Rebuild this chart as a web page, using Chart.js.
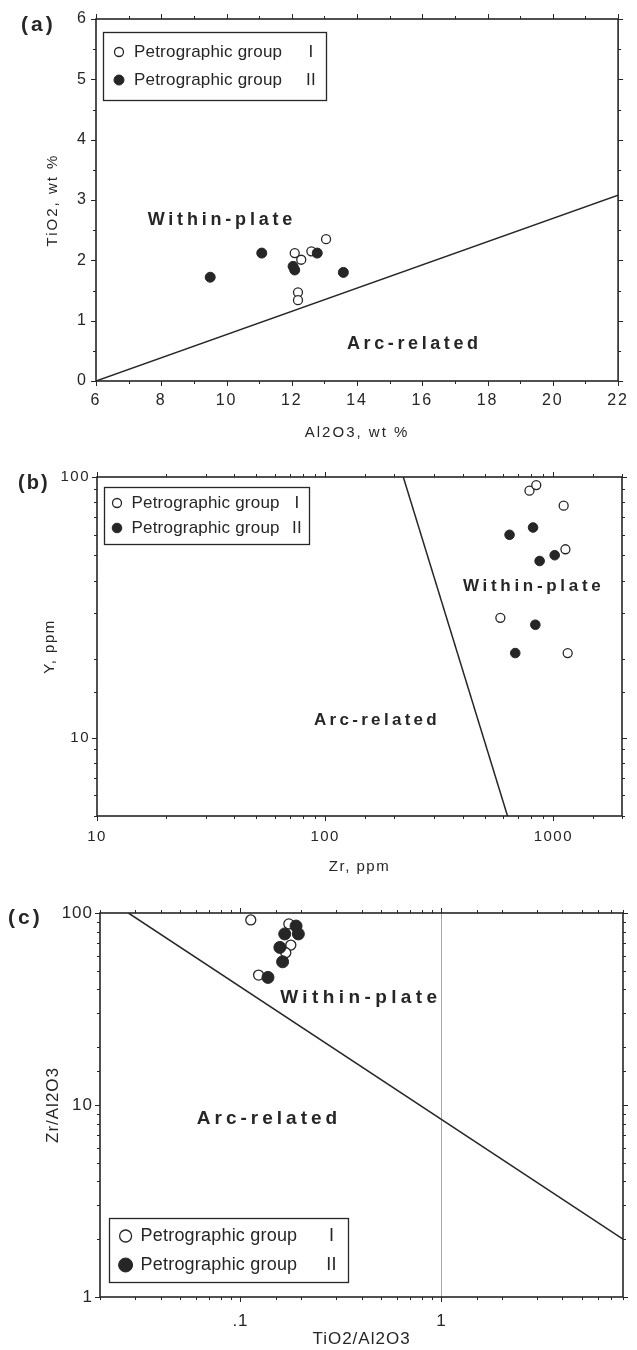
<!DOCTYPE html>
<html><head><meta charset="utf-8">
<script src="https://cdn.jsdelivr.net/npm/chart.js@4.4.1/dist/chart.umd.min.js"></script>
<style>
html,body{margin:0;padding:0;background:#fff;}
body{width:637px;height:1350px;position:relative;overflow:hidden;}
.panel{position:absolute;left:0;width:637px;}
canvas{display:block;}
</style></head><body>
<div class="panel" style="top:0;height:450px"><canvas id="ca" width="637" height="450"></canvas></div>
<div class="panel" style="top:450px;height:430px"><canvas id="cb" width="637" height="430"></canvas></div>
<div class="panel" style="top:880px;height:470px"><canvas id="cc" width="637" height="470"></canvas></div>
<script>
// ---------- DATA ----------
// Panel (a): TiO2 vs Al2O3 (wt %)
const A_G1_AL2O3 = [12.09, 12.29, 12.60, 13.05, 12.19, 12.19];
const A_G1_TIO2  = [2.12, 2.01, 2.15, 2.35, 1.47, 1.34];
const A_G2_AL2O3 = [9.50, 11.08, 12.04, 12.09, 12.78, 13.58];
const A_G2_TIO2  = [1.72, 2.12, 1.90, 1.84, 2.12, 1.80];
const A_LINE_AL2O3 = [6, 22];
const A_LINE_TIO2  = [0, 3.08];
const A_X_TICKS = [6, 8, 10, 12, 14, 16, 18, 20, 22];
const A_X_LABELS = ['6', '8', '10', '12', '14', '16', '18', '20', '22'];
const A_Y_TICKS = [0, 1, 2, 3, 4, 5, 6];
const A_Y_LABELS = ['0', '1', '2', '3', '4', '5', '6'];

// Panel (b): Y vs Zr (ppm)
const B_G1_ZR = [786, 842, 1110, 1130, 586, 1156];
const B_G1_Y  = [88.6, 93.1, 77.6, 52.8, 28.8, 21.1];
const B_G2_ZR = [643, 815, 871, 1014, 834, 681];
const B_G2_Y  = [60, 64, 47.6, 50.1, 27.1, 21.1];
const B_LINE_ZR = [220, 630];
const B_LINE_Y  = [100, 5];
const B_X_TICKS = [10, 100, 1000];
const B_X_LABELS = ['10', '100', '1000'];
const B_Y_TICKS = [10, 100];
const B_Y_LABELS = ['10', '100'];

// Panel (c): Zr/Al2O3 vs TiO2/Al2O3
const C_G1_TI_AL = [0.1125, 0.174, 0.178, 0.168, 0.123];
const C_G1_ZR_AL = [92, 87.7, 68.1, 62.1, 47.5];
const C_G2_TI_AL = [0.189, 0.166, 0.194, 0.157, 0.162, 0.137];
const C_G2_ZR_AL = [85.5, 77.8, 77.8, 66.2, 55.7, 46.2];
const C_LINE_TI_AL = [0.0277, 8];
const C_LINE_ZR_AL = [100, 2];
const C_X_TICKS = [0.1, 1];
const C_X_LABELS = ['.1', '1'];
const C_Y_TICKS = [1, 10, 100];
const C_Y_LABELS = ['1', '10', '100'];
const C_X_GRID = [1];

const SERIES_NAMES = ['Petrographic group', 'Petrographic group'];
const SERIES_NUMERALS = ['I', 'II'];

// ---------- HELPERS ----------
const INK = '#262626';
const FAM = '"Liberation Sans", Arial, Helvetica, sans-serif';
const zip = (xs, ys) => xs.map((x, i) => ({x: x, y: ys[i]}));
const near = (a, b) => Math.abs(a - b) <= 1e-6 * Math.max(1e-12, Math.abs(b));
const isIn = (v, arr) => arr.some(t => near(v, t));
const labeler = (vals, labs) => v => { for (let i = 0; i < vals.length; i++) if (near(v, vals[i])) return labs[i]; return ''; };

function axisValues(scale, step) {
  if (step) { const out = []; for (let v = scale.min; v <= scale.max + 1e-9; v += step) out.push(+v.toFixed(6)); return out; }
  return scale.ticks.map(t => t.value);
}

const textSpacing = {
  id: 'textSpacing',
  beforeDraw(chart, args, o) { chart.ctx.letterSpacing = o.scale || '0px'; },
  beforeDatasetsDraw(chart) { chart.ctx.letterSpacing = '0px'; }
};

const frameTicks = {
  id: 'frameTicks',
  afterDatasetsDraw(chart, args, o) {
    const {ctx, chartArea: a} = chart;
    const xs = chart.scales.x, ys = chart.scales.y;
    ctx.save();
    ctx.strokeStyle = INK;
    ctx.lineWidth = o.frameWidth;
    ctx.strokeRect(a.left, a.top, a.right - a.left, a.bottom - a.top);
    ctx.lineWidth = 1;
    ctx.beginPath();
    for (const v of axisValues(xs, o.xStep)) {
      const p = Math.round(xs.getPixelForValue(v)) + 0.5;
      const L = isIn(v, o.xMajor) ? o.major : o.minor;
      ctx.moveTo(p, a.bottom); ctx.lineTo(p, a.bottom + L);
      ctx.moveTo(p, a.top); ctx.lineTo(p, a.top - L);
    }
    for (const v of axisValues(ys, o.yStep)) {
      const p = Math.round(ys.getPixelForValue(v)) + 0.5;
      const L = isIn(v, o.yMajor) ? o.major : o.minor;
      ctx.moveTo(a.left, p); ctx.lineTo(a.left - L, p);
      ctx.moveTo(a.right, p); ctx.lineTo(a.right + L, p);
    }
    ctx.stroke();
    ctx.restore();
  }
};

const annot = {
  id: 'annot',
  afterDraw(chart, args, o) {
    const ctx = chart.ctx;
    const xs = chart.scales.x, ys = chart.scales.y;
    ctx.save();
    ctx.fillStyle = INK;
    ctx.textBaseline = 'middle';
    // region names
    for (const r of o.regions) {
      ctx.font = 'bold ' + r.size + 'px ' + FAM;
      ctx.letterSpacing = r.spacing + 'px';
      ctx.textAlign = 'center';
      ctx.fillText(r.text, xs.getPixelForValue(r.x) + r.spacing / 2, ys.getPixelForValue(r.y));
    }
    // panel tag
    const t = o.tag;
    ctx.font = 'bold ' + t.size + 'px ' + FAM;
    ctx.letterSpacing = t.spacing + 'px';
    ctx.textAlign = 'left';
    ctx.fillText(t.text, t.x, t.y);
    // legend box
    const L = o.legend;
    ctx.letterSpacing = '0px';
    ctx.strokeStyle = INK;
    ctx.lineWidth = 1.3;
    ctx.strokeRect(L.x1 + 0.5, L.y1 + 0.5, L.x2 - L.x1, L.y2 - L.y1);
    ctx.font = L.size + 'px ' + FAM;
    ctx.letterSpacing = L.spacing + 'px';
    const ds = [chart.data.datasets[1], chart.data.datasets[0]];
    ds.forEach((d, i) => {
      const y = L.rows[i];
      ctx.beginPath();
      ctx.arc(L.symX, y, d.pointRadius + L.symGrow, 0, Math.PI * 2);
      ctx.fillStyle = d.pointBackgroundColor;
      ctx.fill();
      ctx.lineWidth = d.pointBorderWidth;
      ctx.strokeStyle = d.pointBorderColor;
      ctx.stroke();
      ctx.fillStyle = INK;
      ctx.textAlign = 'left';
      ctx.fillText(SERIES_NAMES[i], L.textX, y);
      ctx.textAlign = 'center';
      ctx.fillText(SERIES_NUMERALS[i], L.numX, y);
    });
    ctx.restore();
  }
};

function makeChart(id, c) {
  const titleFont = {family: FAM, size: c.titleSize};
  const tickFont = {family: FAM, size: c.tickSize};
  return new Chart(document.getElementById(id), {
    type: 'scatter',
    data: {datasets: [
      {label: 'Petrographic group II', data: zip(c.g2x, c.g2y), pointRadius: c.r2, pointBackgroundColor: INK,
       pointBorderColor: INK, pointBorderWidth: 1, order: 0},
      {label: 'Petrographic group I', data: zip(c.g1x, c.g1y), pointRadius: c.r1, pointBackgroundColor: '#ffffff',
       pointBorderColor: INK, pointBorderWidth: 1.3, order: 1},
      {label: 'boundary', data: zip(c.lx, c.ly), showLine: true, pointRadius: 0, borderColor: INK,
       borderWidth: 1.5, order: 2}
    ]},
    options: {
      responsive: false, animation: false, events: [],
      layout: {padding: c.padding},
      plugins: {
        legend: {display: false}, tooltip: {enabled: false},
        textSpacing: {scale: c.scaleSpacing},
        frameTicks: {frameWidth: 1.6, major: 5, minor: 3, xStep: c.xStep, yStep: c.yStep,
                     xMajor: c.xTicks, yMajor: c.yTicks},
        annot: c.annot
      },
      scales: {
        x: {
          type: c.xType, min: c.xMin, max: c.xMax, position: 'bottom',
          afterFit: s => { s.height = c.xH; },
          border: {display: false},
          grid: {drawTicks: false, drawOnChartArea: !!c.xGrid,
                 color: ctx => (c.xGrid && ctx.tick && isIn(ctx.tick.value, c.xGrid)) ? '#a8a8a8' : 'rgba(0,0,0,0)',
                 lineWidth: 1},
          ticks: {autoSkip: false, maxRotation: 0, minRotation: 0, padding: c.xPad, color: INK, font: tickFont,
                  stepSize: c.xTickStep, callback: labeler(c.xTicks, c.xLabels)},
          title: {display: true, text: c.xTitle, color: INK, font: titleFont, padding: {top: 0, bottom: c.xTitlePad}}
        },
        y: {
          type: c.yType, min: c.yMin, max: c.yMax, position: 'left',
          afterFit: s => { s.width = c.yW; },
          border: {display: false},
          grid: {display: false, drawTicks: false},
          ticks: {autoSkip: false, padding: c.yPad, color: INK, font: tickFont,
                  stepSize: c.yTickStep, callback: labeler(c.yTicks, c.yLabels)},
          title: {display: true, text: c.yTitle, color: INK, font: titleFont, padding: {top: c.yTitlePad, bottom: 0}}
        }
      }
    },
    plugins: [textSpacing, frameTicks, annot]
  });
}

// ---------- PANEL (a) ----------
makeChart('ca', {
  g1x: A_G1_AL2O3, g1y: A_G1_TIO2, g2x: A_G2_AL2O3, g2y: A_G2_TIO2, lx: A_LINE_AL2O3, ly: A_LINE_TIO2,
  r1: 4.5, r2: 5,
  xType: 'linear', xMin: 6, xMax: 22, xTickStep: 2, xStep: 1, xTicks: A_X_TICKS, xLabels: A_X_LABELS,
  yType: 'linear', yMin: 0, yMax: 6, yTickStep: 1, yStep: 0.5, yTicks: A_Y_TICKS, yLabels: A_Y_LABELS,
  xTitle: 'Al2O3, wt %', yTitle: 'TiO2, wt %',
  padding: {left: 40, right: 14, top: 19, bottom: 8}, xH: 61, yW: 56,
  tickSize: 16, titleSize: 15, scaleSpacing: '2px', xPad: 10, yPad: 8, xTitlePad: 0, yTitlePad: 4,
  annot: {
    regions: [{text: 'Within-plate', x: 9.8, y: 2.67, size: 18, spacing: 3.8},
              {text: 'Arc-related', x: 15.7, y: 0.61, size: 18, spacing: 3.6}],
    tag: {text: '(a)', x: 21, y: 25, size: 21, spacing: 3},
    legend: {x1: 103, y1: 32, x2: 326, y2: 100, rows: [52, 80], symX: 119, textX: 134, numX: 311,
             size: 17, spacing: 0.2, symGrow: 0}
  }
});

// ---------- PANEL (b) ----------
makeChart('cb', {
  g1x: B_G1_ZR, g1y: B_G1_Y, g2x: B_G2_ZR, g2y: B_G2_Y, lx: B_LINE_ZR, ly: B_LINE_Y,
  r1: 4.5, r2: 4.8,
  xType: 'logarithmic', xMin: 10, xMax: 2000, xTicks: B_X_TICKS, xLabels: B_X_LABELS,
  yType: 'logarithmic', yMin: 5, yMax: 100, yTicks: B_Y_TICKS, yLabels: B_Y_LABELS,
  xTitle: 'Zr, ppm', yTitle: 'Y, ppm',
  padding: {left: 40, right: 15, top: 27, bottom: 4}, xH: 60, yW: 57,
  tickSize: 15, titleSize: 15, scaleSpacing: '1.5px', xPad: 12, yPad: 7, xTitlePad: 0, yTitlePad: 1,
  annot: {
    regions: [{text: 'Within-plate', x: 805, y: 38, size: 17, spacing: 3.7},
              {text: 'Arc-related', x: 166, y: 11.6, size: 17, spacing: 3.3}],
    tag: {text: '(b)', x: 18, y: 33, size: 20, spacing: 2},
    legend: {x1: 104, y1: 37, x2: 309, y2: 94, rows: [53, 78], symX: 117, textX: 131.5, numX: 297,
             size: 17, spacing: 0.2, symGrow: 0}
  }
});

// ---------- PANEL (c) ----------
makeChart('cc', {
  g1x: C_G1_TI_AL, g1y: C_G1_ZR_AL, g2x: C_G2_TI_AL, g2y: C_G2_ZR_AL, lx: C_LINE_TI_AL, ly: C_LINE_ZR_AL,
  r1: 5, r2: 6,
  xType: 'logarithmic', xMin: 0.02, xMax: 8, xTicks: C_X_TICKS, xLabels: C_X_LABELS, xGrid: C_X_GRID,
  yType: 'logarithmic', yMin: 1, yMax: 100, yTicks: C_Y_TICKS, yLabels: C_Y_LABELS,
  xTitle: 'TiO2/Al2O3', yTitle: 'Zr/Al2O3',
  padding: {left: 40, right: 13, top: 33, bottom: 0}, xH: 53, yW: 60,
  tickSize: 17, titleSize: 17, scaleSpacing: '1px', xPad: 14, yPad: 7, xTitlePad: 0, yTitlePad: 3,
  annot: {
    regions: [{text: 'Within-plate', x: 0.387, y: 36, size: 19, spacing: 4.4},
              {text: 'Arc-related', x: 0.1355, y: 8.5, size: 19, spacing: 4}],
    tag: {text: '(c)', x: 8, y: 38, size: 21, spacing: 3},
    legend: {x1: 109, y1: 338, x2: 348, y2: 402, rows: [356, 385], symX: 125.6, textX: 140.6, numX: 331.5,
             size: 18, spacing: 0.2, symGrow: 1}
  }
});
</script>
</body></html>
